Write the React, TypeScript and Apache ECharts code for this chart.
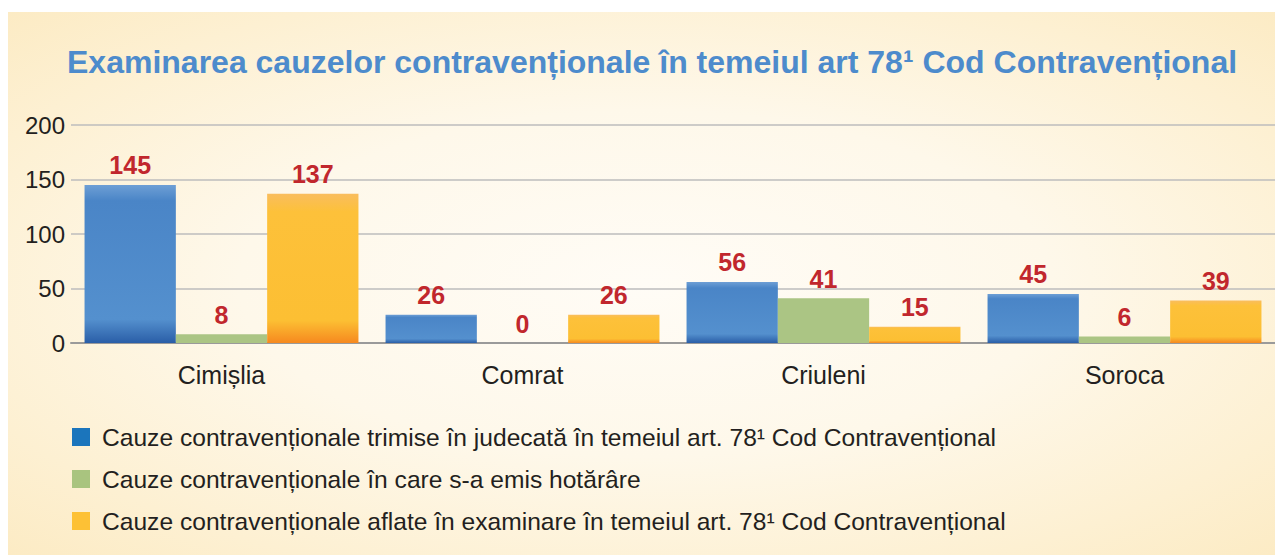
import React, { useEffect, useRef } from "react";
import * as echarts from "echarts";

const categories = ["Cimișlia", "Comrat", "Criuleni", "Soroca"];
const seriesNames = [
  "Cauze contravenționale trimise în judecată în temeiul art. 78¹ Cod Contravențional",
  "Cauze contravenționale în care s-a emis hotărâre",
  "Cauze contravenționale aflate în examinare în temeiul art. 78¹ Cod Contravențional",
];
const sentToCourt = [145, 26, 56, 45];
const decided = [8, 0, 41, 6];
const underExamination = [137, 26, 15, 39];
const yTicks = { min: 0, max: 200, interval: 50 };

const FONT = "'Liberation Sans', Arial, sans-serif";

export default function App() {
  const ref = useRef<HTMLDivElement>(null);
  useEffect(() => {
    if (!ref.current) return;
    const chart = echarts.init(ref.current, undefined, { renderer: "svg" });
    const blue = new echarts.graphic.LinearGradient(0, 0, 0, 1, [
      { offset: 0, color: "#6e9fd5" },
      { offset: 0.1, color: "#4a85c7" },
      { offset: 0.85, color: "#5490ce" },
      { offset: 1, color: "#2a5ea7" },
    ]);
    const orange = new echarts.graphic.LinearGradient(0, 0, 0, 1, [
      { offset: 0, color: "#f9bd5e" },
      { offset: 0.12, color: "#fdc13a" },
      { offset: 0.85, color: "#fcbf33" },
      { offset: 1, color: "#f6891f" },
    ]);
    const label = {
      show: true,
      position: "top",
      distance: 7,
      color: "#c1272d",
      fontSize: 25,
      fontWeight: "bold",
      fontFamily: FONT,
    };
    chart.setOption({
      animation: false,
      title: {
        text: "Examinarea cauzelor contravenționale în temeiul art 78¹ Cod Contravențional",
        left: 54,
        top: 29,
        textStyle: { color: "#4d8bcc", fontSize: 32, fontWeight: "bold", fontFamily: FONT },
      },
      legend: {
        orient: "vertical",
        left: 64,
        top: 411,
        padding: 0,
        itemWidth: 18,
        itemHeight: 18,
        itemGap: 14,
        icon: "rect",
        textStyle: { color: "#231f20", fontSize: 24.6, fontFamily: FONT, lineHeight: 28, padding: [0, 0, 0, 7] },
        data: [
          { name: seriesNames[0], itemStyle: { color: "#1b75bc" } },
          { name: seriesNames[1], itemStyle: { color: "#a9c47f" } },
          { name: seriesNames[2], itemStyle: { color: "#fdc135" } },
        ],
      },
      grid: { left: 63, right: 8, top: 113, bottom: 212, containLabel: false },
      xAxis: {
        type: "category",
        data: categories,
        axisTick: { show: false },
        axisLine: { show: true, lineStyle: { color: "#9a9a9a", width: 2 } },
        axisLabel: { color: "#231f20", fontSize: 25, fontFamily: FONT, margin: 19 },
      },
      yAxis: {
        type: "value",
        min: yTicks.min,
        max: yTicks.max,
        interval: yTicks.interval,
        axisLine: { show: false },
        axisTick: { show: false },
        axisLabel: { color: "#231f20", fontSize: 24, fontFamily: FONT, margin: 6 },
        splitLine: { lineStyle: { color: "#bdbdbd", width: 1.5 } },
      },
      series: [
        {
          name: seriesNames[0],
          type: "bar",
          data: sentToCourt,
          barGap: "0%",
          barCategoryGap: "9%",
          itemStyle: { color: blue },
          label,
        },
        {
          name: seriesNames[1],
          type: "bar",
          data: decided,
          barGap: "0%",
          barCategoryGap: "9%",
          itemStyle: { color: "#abc584" },
          label,
        },
        {
          name: seriesNames[2],
          type: "bar",
          data: underExamination,
          barGap: "0%",
          barCategoryGap: "9%",
          itemStyle: { color: orange },
          label,
        },
      ],
    });
    return () => chart.dispose();
  }, []);
  return (
    <div style={{ paddingTop: 4 }}>
      <div
        ref={ref}
        style={{
          width: 1275,
          height: 543,
          background:
            "radial-gradient(ellipse at 50% 50%, #fffcf6 0%, #fef8ea 45%, #fdf0d2 80%, #fcebc4 100%)",
        }}
      />
    </div>
  );
}
